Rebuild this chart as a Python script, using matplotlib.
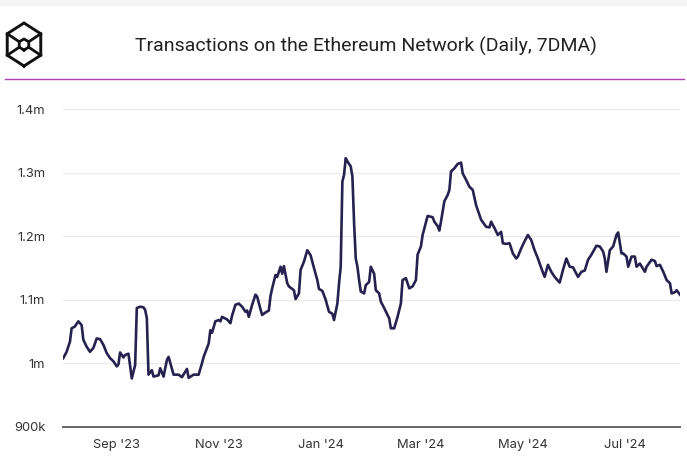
import numpy as np
import pandas as pd
import matplotlib
matplotlib.use("Agg")
import matplotlib.pyplot as plt
import matplotlib.dates as mdates
from matplotlib.lines import Line2D
from matplotlib.ticker import FixedLocator

# --- data (7DMA daily transactions, millions) ---
dates = [
    "2023-07-31", "2023-08-02", "2023-08-04", "2023-08-05", "2023-08-07", "2023-08-09",
    "2023-08-11", "2023-08-12", "2023-08-14", "2023-08-16", "2023-08-18", "2023-08-20",
    "2023-08-22", "2023-08-24", "2023-08-26", "2023-08-28", "2023-08-30", "2023-09-01",
    "2023-09-02", "2023-09-03", "2023-09-05", "2023-09-06", "2023-09-08", "2023-09-10",
    "2023-09-12", "2023-09-13", "2023-09-15", "2023-09-17", "2023-09-18", "2023-09-19",
    "2023-09-20", "2023-09-22", "2023-09-23", "2023-09-26", "2023-09-27", "2023-09-29",
    "2023-10-01", "2023-10-02", "2023-10-05", "2023-10-08", "2023-10-10", "2023-10-13",
    "2023-10-14", "2023-10-17", "2023-10-20", "2023-10-22", "2023-10-23", "2023-10-26",
    "2023-10-27", "2023-10-28", "2023-10-30", "2023-11-01", "2023-11-02", "2023-11-03",
    "2023-11-06", "2023-11-08", "2023-11-09", "2023-11-11", "2023-11-13", "2023-11-15",
    "2023-11-17", "2023-11-18", "2023-11-19", "2023-11-21", "2023-11-23", "2023-11-24",
    "2023-11-26", "2023-11-27", "2023-11-29", "2023-12-01", "2023-12-02", "2023-12-03",
    "2023-12-05", "2023-12-06", "2023-12-08", "2023-12-09", "2023-12-10", "2023-12-12",
    "2023-12-13", "2023-12-16", "2023-12-17", "2023-12-19", "2023-12-20", "2023-12-22",
    "2023-12-24", "2023-12-26", "2023-12-28", "2023-12-30", "2023-12-31", "2024-01-02",
    "2024-01-04", "2024-01-06", "2024-01-08", "2024-01-09", "2024-01-11", "2024-01-12",
    "2024-01-13", "2024-01-14", "2024-01-15", "2024-01-16", "2024-01-17", "2024-01-19",
    "2024-01-20", "2024-01-21", "2024-01-22", "2024-01-23", "2024-01-24", "2024-01-25",
    "2024-01-27", "2024-01-28", "2024-01-30", "2024-01-31", "2024-02-02", "2024-02-03",
    "2024-02-05", "2024-02-06", "2024-02-08", "2024-02-10", "2024-02-11", "2024-02-12",
    "2024-02-14", "2024-02-16", "2024-02-18", "2024-02-19", "2024-02-21", "2024-02-23",
    "2024-02-25", "2024-02-27", "2024-02-28", "2024-03-01", "2024-03-02", "2024-03-05",
    "2024-03-08", "2024-03-09", "2024-03-11", "2024-03-12", "2024-03-13", "2024-03-15",
    "2024-03-17", "2024-03-18", "2024-03-19", "2024-03-21", "2024-03-23", "2024-03-25",
    "2024-03-26", "2024-03-28", "2024-03-30", "2024-04-01", "2024-04-03", "2024-04-06",
    "2024-04-09", "2024-04-11", "2024-04-12", "2024-04-14", "2024-04-16", "2024-04-18",
    "2024-04-19", "2024-04-21", "2024-04-23", "2024-04-25", "2024-04-27", "2024-04-28",
    "2024-04-30", "2024-05-02", "2024-05-04", "2024-05-06", "2024-05-08", "2024-05-10",
    "2024-05-12", "2024-05-14", "2024-05-16", "2024-05-18", "2024-05-20", "2024-05-21",
    "2024-05-23", "2024-05-25", "2024-05-27", "2024-05-29", "2024-05-31", "2024-06-03",
    "2024-06-05", "2024-06-07", "2024-06-09", "2024-06-11", "2024-06-14", "2024-06-16",
    "2024-06-18", "2024-06-19", "2024-06-20", "2024-06-22", "2024-06-24", "2024-06-26",
    "2024-06-27", "2024-06-29", "2024-06-30", "2024-07-02", "2024-07-03", "2024-07-05",
    "2024-07-07", "2024-07-08", "2024-07-10", "2024-07-13", "2024-07-14", "2024-07-17",
    "2024-07-19", "2024-07-20", "2024-07-22", "2024-07-24", "2024-07-26", "2024-07-28",
    "2024-07-29", "2024-07-31", "2024-08-01", "2024-08-03",
]
tx_millions = [
    1.008, 1.018, 1.034, 1.055, 1.058, 1.066,
    1.060, 1.037, 1.026, 1.018, 1.024, 1.039,
    1.038, 1.029, 1.016, 1.008, 1.003, 0.995,
    0.998, 1.017, 1.009, 1.013, 1.015, 0.976,
    0.997, 1.087, 1.089, 1.088, 1.084, 1.071,
    0.982, 0.989, 0.979, 0.981, 0.992, 0.979,
    1.005, 1.010, 0.982, 0.982, 0.978, 0.991,
    0.977, 0.982, 0.982, 1.000, 1.010, 1.031,
    1.052, 1.048, 1.066, 1.068, 1.066, 1.073,
    1.069, 1.063, 1.075, 1.092, 1.094, 1.089,
    1.081, 1.083, 1.073, 1.092, 1.108, 1.105,
    1.085, 1.076, 1.080, 1.083, 1.106, 1.118,
    1.139, 1.136, 1.152, 1.141, 1.153, 1.126,
    1.121, 1.115, 1.101, 1.110, 1.147, 1.160,
    1.178, 1.170, 1.150, 1.131, 1.117, 1.114,
    1.100, 1.081, 1.078, 1.068, 1.094, 1.126,
    1.152, 1.286, 1.297, 1.323, 1.318, 1.310,
    1.294, 1.221, 1.165, 1.152, 1.131, 1.113,
    1.110, 1.123, 1.128, 1.152, 1.141, 1.115,
    1.110, 1.097, 1.087, 1.076, 1.071, 1.055,
    1.055, 1.073, 1.094, 1.131, 1.134, 1.118,
    1.121, 1.131, 1.171, 1.184, 1.202, 1.232,
    1.230, 1.223, 1.216, 1.209, 1.223, 1.255,
    1.265, 1.273, 1.302, 1.307, 1.314, 1.316,
    1.299, 1.289, 1.278, 1.273, 1.249, 1.226,
    1.215, 1.214, 1.223, 1.213, 1.202, 1.207,
    1.189, 1.188, 1.189, 1.173, 1.165, 1.168,
    1.181, 1.192, 1.202, 1.194, 1.178, 1.165,
    1.150, 1.136, 1.155, 1.144, 1.136, 1.133,
    1.127, 1.147, 1.165, 1.152, 1.151, 1.136,
    1.144, 1.146, 1.163, 1.171, 1.185, 1.184,
    1.176, 1.165, 1.144, 1.178, 1.184, 1.202,
    1.206, 1.173, 1.173, 1.168, 1.152, 1.168,
    1.168, 1.152, 1.157, 1.144, 1.152, 1.163,
    1.161, 1.153, 1.155, 1.144, 1.131, 1.126,
    1.110, 1.112, 1.115, 1.108,
]

y_ticks = [0.9, 1.0, 1.1, 1.2, 1.3, 1.4]
y_tick_labels = ["900k", "1m", "1.1m", "1.2m", "1.3m", "1.4m"]
x_ticks = ["2023-09-01", "2023-11-01", "2024-01-01", "2024-03-01", "2024-05-01", "2024-07-01"]
x_tick_labels = ["Sep '23", "Nov '23", "Jan '24", "Mar '24", "May '24", "Jul '24"]
title = "Transactions on the Ethereum Network (Daily, 7DMA)"

LINE_COLOR = "#25224f"
TEXT_COLOR = "#333333"

plt.rcParams['font.family'] = ['Inter', 'DejaVu Sans']

df = pd.DataFrame({"date": pd.to_datetime(dates), "tx": tx_millions})

fig = plt.figure(figsize=(6.87, 4.62), dpi=100)
ax = fig.add_axes([0.0921, 0.0764, 0.8977, 0.687])

ax.plot(df["date"], df["tx"], color=LINE_COLOR, lw=1.9, solid_joinstyle="round", zorder=3)

ax.set_ylim(0.9, 1.4)
ax.set_xlim(pd.Timestamp("2023-07-31"), pd.Timestamp("2024-08-03"))

ax.yaxis.set_major_locator(FixedLocator(y_ticks))
ax.set_yticklabels(y_tick_labels)
ax.xaxis.set_major_locator(FixedLocator(mdates.date2num(pd.to_datetime(x_ticks))))
ax.set_xticklabels(x_tick_labels)

ax.grid(axis="y", color="#ebebeb", lw=1.0, zorder=0)
for s in ["top", "right", "left"]:
    ax.spines[s].set_visible(False)
ax.spines["bottom"].set_color("#666666")
ax.spines["bottom"].set_linewidth(1.4)
ax.spines["bottom"].set_zorder(4)
ax.tick_params(axis="both", length=0, labelsize=9.3, labelcolor=TEXT_COLOR)
ax.tick_params(axis="y", pad=13)
ax.tick_params(axis="x", pad=9)

# header: title, separator line, logo
fig.text(0.533, 0.900, title, ha="center", va="center", fontsize=14,
         color="#222222", family=["Roboto", "DejaVu Sans"])
fig.add_artist(Line2D([5 / 687, 684 / 687], [1 - 79 / 462, 1 - 79 / 462],
                      color="#b040b8", lw=1.0))
fig.patches.append(plt.Rectangle((0, 1 - 5 / 462), 1, 5 / 462, transform=fig.transFigure,
                                 color="#f4f4f4", zorder=0))

# logo (hexagon with inner ring and spokes)
cx, cy, r = 24.0, 44.5, 21.5
ang = np.deg2rad(np.array([90, 30, -30, -90, -150, 150, 90]))
hx = cx + r * 0.9 * np.cos(ang)
hy = cy + r * np.sin(ang)
fig.add_artist(Line2D(hx / 687, 1 - hy / 462, color="#111111", lw=2.1, solid_joinstyle="miter"))
ri = 5.5
ix = cx + ri * np.cos(ang)
iy = cy + ri * np.sin(ang)
fig.add_artist(Line2D(ix / 687, 1 - iy / 462, color="#111111", lw=2.0))
for k in [1, 2, 4, 5]:
    fig.add_artist(Line2D([hx[k] / 687, ix[k] / 687], [1 - hy[k] / 462, 1 - iy[k] / 462],
                          color="#111111", lw=2.0))

fig.savefig("out.png", dpi=100)
